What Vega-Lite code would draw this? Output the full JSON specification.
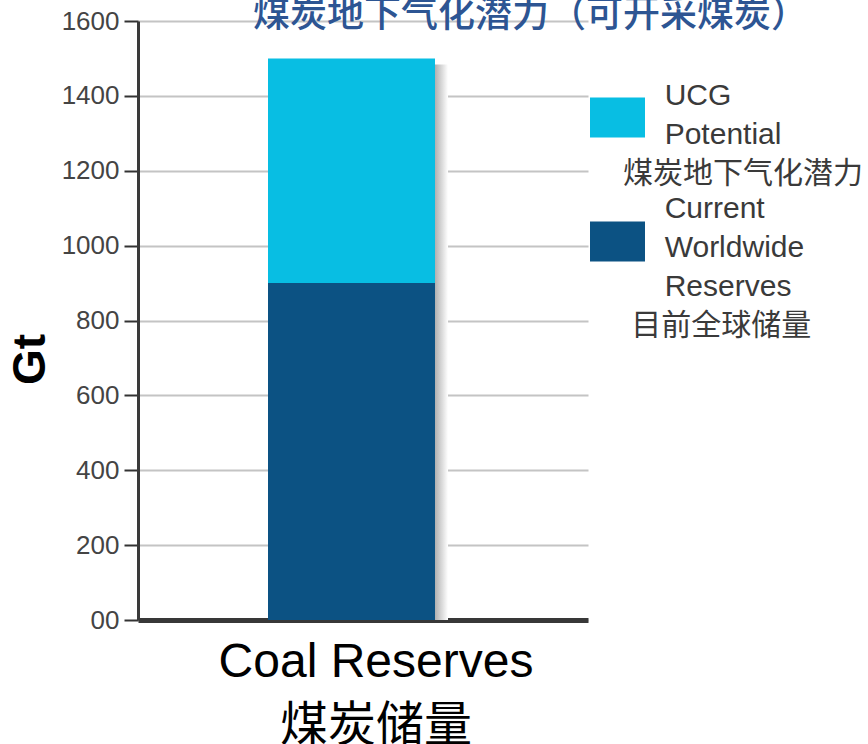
{
  "$schema": "https://vega.github.io/schema/vega-lite/v6.json",
  "autosize": {"type": "none"},
  "padding": {"left": 138, "top": 21, "right": 280, "bottom": 124},
  "width": 450,
  "height": 599,
  "background": "white",
  "title": {
    "text": "煤炭地下气化潜力（可开采煤炭）",
    "anchor": "start",
    "frame": "group",
    "dx": 115,
    "offset": -56,
    "baseline": "alphabetic",
    "font": "Noto Sans CJK SC",
    "fontSize": 37,
    "fontWeight": 500,
    "color": "#2d5593"
  },
  "data": {
    "values": [
      {"category": "Current Worldwide Reserves", "group": "Coal Reserves", "value": 900},
      {"category": "UCG Potential", "group": "Coal Reserves", "value": 600}
    ]
  },
  "layer": [
    {
      "mark": {
        "type": "bar",
        "size": 180,
        "xOffset": -5,
        "yOffset": 6,
        "fill": {
          "gradient": "linear", "x1": 0, "x2": 1, "y1": 0, "y2": 0,
          "stops": [
            {"offset": 0, "color": "#a8a8a8"},
            {"offset": 0.92, "color": "#a8a8a8"},
            {"offset": 1, "color": "#ffffff"}
          ]
        }
      },
      "encoding": {
        "x": {"field": "group", "type": "nominal"},
        "y": {"aggregate": "sum", "field": "value", "type": "quantitative"}
      }
    },
    {
      "mark": {"type": "bar", "size": 167, "xOffset": -11.5},
      "encoding": {
        "x": {
          "field": "group",
          "type": "nominal",
          "title": null,
          "axis": {
            "labelAngle": 0,
            "labelAlign": "center",
            "labelBaseline": "top",
            "labelExpr": "['Coal Reserves', '煤炭储量']",
            "labelFont": "Liberation Sans, Noto Sans CJK SC",
            "labelFontSize": 48,
            "labelLineHeight": 64,
            "labelColor": "#000000",
            "labelPadding": 18,
            "labelOffset": 13,
            "ticks": false,
            "domainColor": "#383838",
            "domainWidth": 5,
            "labelLimit": 600
          }
        },
        "y": {
          "field": "value",
          "type": "quantitative",
          "stack": "zero",
          "scale": {"domain": [0, 1600]},
          "title": "Gt",
          "axis": {
            "values": [0, 200, 400, 600, 800, 1000, 1200, 1400, 1600],
            "format": "d",
            "labelExpr": "datum.value == 0 ? '00' : datum.label",
            "labelFont": "Liberation Sans",
            "labelFontSize": 26,
            "labelColor": "#444444",
            "labelPadding": 5,
            "tickSize": 14,
            "tickWidth": 2,
            "tickColor": "#333333",
            "domainColor": "#3a3a3a",
            "domainWidth": 3,
            "gridColor": "#c4c4c4",
            "gridWidth": 2,
            "titleFont": "Liberation Sans",
            "titleFontSize": 46,
            "titleFontWeight": "bold",
            "titleColor": "#000000",
            "titleAngle": 270,
            "titleBaseline": "alphabetic",
            "titleX": -94,
            "titleY": 338
          }
        },
        "color": {
          "field": "category",
          "type": "nominal",
          "scale": {
            "domain": ["UCG Potential", "Current Worldwide Reserves"],
            "range": ["#08bee3", "#0c5283"]
          },
          "legend": {
            "title": null,
            "orient": "none",
            "legendX": 452,
            "legendY": 69,
            "padding": 0,
            "symbolType": "M-1,-0.73H1V0.73H-1Z",
            "symbolSize": 3025,
            "symbolStrokeWidth": 0,
            "symbolOpacity": 1,
            "labelOffset": -22,
            "labelFont": "Liberation Sans, Noto Sans CJK SC",
            "labelFontSize": 30,
            "labelColor": "#3a3a3a",
            "labelLimit": 400,
            "rowPadding": 4,
            "labelExpr": "datum.label == 'UCG Potential' ? ['\u200d\u00a0\u00a0\u00a0\u00a0\u00a0UCG', '\u200d\u00a0\u00a0\u00a0\u00a0\u00a0Potential', '煤炭地下气化潜力'] : ['\u200d\u00a0\u00a0\u00a0\u00a0\u00a0Current', '\u200d\u00a0\u00a0\u00a0\u00a0\u00a0Worldwide', '\u200d\u00a0\u00a0\u00a0\u00a0\u00a0Reserves', '\u200d\u00a0目前全球储量']",
            "encode": {
              "labels": {
                "update": {
                  "lineHeight": {"value": 39},
                  "dy": {"signal": "datum.value == 'UCG Potential' ? -22 : -33"}
                }
              }
            }
          }
        },
        "order": {"field": "category", "sort": "ascending"}
      }
    }
  ],
  "config": {
    "view": {"stroke": null}
  }
}
